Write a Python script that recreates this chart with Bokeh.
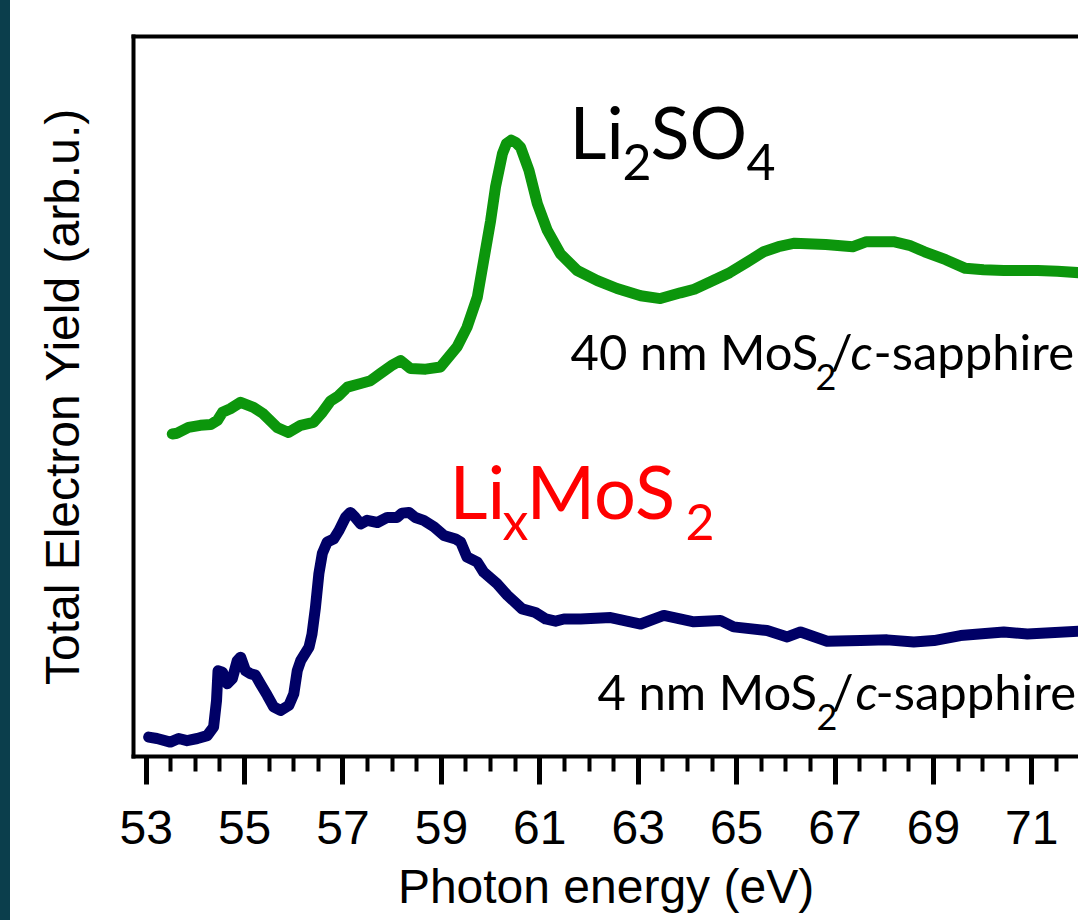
from bokeh.plotting import figure
from bokeh.models import FixedTicker, Label, LinearAxis, Range1d, Spacer
from bokeh.layouts import row
from bokeh.embed import file_html
from bokeh.resources import INLINE

# ---------------- data ----------------
energy_li2so4 = [53.53, 53.63, 53.86, 54.10, 54.31, 54.45, 54.55, 54.71, 54.92, 55.18,
                 55.38, 55.66, 55.89, 56.14, 56.40, 56.58, 56.75, 56.91, 57.09, 57.36,
                 57.56, 57.76, 58.01, 58.17, 58.37, 58.68, 58.98, 59.32, 59.52, 59.73,
                 59.86, 60.00, 60.10, 60.24, 60.32, 60.42, 60.51, 60.61, 60.78, 60.95,
                 61.15, 61.42, 61.76, 62.17, 62.57, 63.05, 63.45, 63.86, 64.14, 64.49,
                 64.86, 65.20, 65.55, 65.85, 66.18, 66.81, 67.36, 67.64, 68.19, 68.51,
                 68.82, 69.25, 69.65, 70.02, 70.43, 71.12, 71.52, 71.95, 72.30]
tey_li2so4 = [44.8, 44.9, 45.7, 46.0, 46.1, 46.7, 47.8, 48.3, 49.2, 48.5,
              47.6, 45.7, 45.0, 46.0, 46.4, 47.8, 49.4, 50.1, 51.3, 51.8,
              52.2, 53.2, 54.4, 55.0, 53.9, 53.8, 54.1, 56.9, 59.6, 63.8,
              68.9, 74.4, 79.1, 83.7, 85.1, 85.6, 85.3, 84.6, 81.4, 76.8,
              73.1, 69.8, 67.5, 66.1, 65.0, 64.0, 63.6, 64.4, 64.9, 66.0,
              67.2, 68.6, 70.1, 70.8, 71.3, 71.1, 70.8, 71.5, 71.5, 71.0,
              70.1, 69.0, 67.8, 67.6, 67.5, 67.5, 67.4, 67.2, 67.0]

energy_lixmos2 = [53.05, 53.22, 53.49, 53.66, 53.83, 54.04, 54.24, 54.37, 54.43, 54.46,
                  54.55, 54.65, 54.75, 54.85, 54.92, 55.02, 55.12, 55.22, 55.32, 55.46,
                  55.59, 55.73, 55.90, 56.00, 56.07, 56.14, 56.31, 56.37, 56.44, 56.51,
                  56.58, 56.68, 56.81, 56.92, 57.05, 57.15, 57.25, 57.36, 57.49, 57.70,
                  57.90, 58.10, 58.20, 58.34, 58.47, 58.64, 58.85, 59.05, 59.29, 59.39,
                  59.52, 59.73, 59.86, 60.13, 60.34, 60.64, 60.91, 61.12, 61.32, 61.49,
                  61.83, 62.44, 63.05, 63.52, 64.13, 64.67, 64.94, 65.62, 66.03, 66.30,
                  66.84, 67.52, 68.06, 68.60, 69.01, 69.55, 70.43, 70.91, 71.95, 72.30]
tey_lixmos2 = [2.7, 2.5, 2.0, 2.5, 2.2, 2.5, 2.9, 4.1, 7.8, 11.9,
               11.7, 10.1, 10.8, 13.3, 13.8, 11.9, 11.5, 11.3, 10.1, 8.5,
               6.9, 6.4, 7.1, 8.7, 11.9, 13.3, 15.2, 17.0, 20.7, 25.4,
               28.2, 29.8, 30.2, 31.4, 33.2, 33.9, 33.2, 32.3, 32.8, 32.5,
               33.2, 33.2, 33.8, 33.9, 33.2, 32.8, 31.9, 30.7, 30.2, 29.8,
               27.7, 27.0, 25.6, 24.0, 22.4, 20.5, 20.0, 19.1, 18.8, 19.1,
               19.1, 19.3, 18.4, 19.6, 18.7, 18.9, 18.0, 17.5, 16.6, 17.3,
               16.0, 16.1, 16.2, 15.9, 16.1, 16.8, 17.3, 17.0, 17.4, 17.5]

x_major_ticks = [53, 55, 57, 59, 61, 63, 65, 67, 69, 71]
x_minor_ticks = [53.5, 54, 54.5, 55.5, 56, 56.5, 57.5, 58, 58.5, 59.5, 60, 60.5,
                 61.5, 62, 62.5, 63.5, 64, 64.5, 65.5, 66, 66.5, 67.5, 68, 68.5,
                 69.5, 70, 70.5, 71.5]

X0, X1 = 52.742, 71.949
Y0, Y1 = 0.0, 100.0

GREEN = "#0c960c"
NAVY = "#000066"
RED = "#ff0000"
TEAL = "#0b3e4c"
TXT_FONT = "Lato"
AX_FONT = "Liberation Sans"

# frame geometry in window pixels (for annotation placement only)
FL, FR, FT, FB = 133, 1078, 36, 756


def ex(px):
    return X0 + (px - FL) * (X1 - X0) / (FR - FL)


def iy(py):
    return Y0 + (FB - py) * (Y1 - Y0) / (FB - FT)


p = figure(width=1068, height=920, x_range=Range1d(X0, X1), y_range=Range1d(Y0, Y1),
           x_axis_type=None, y_axis_type=None, output_backend="svg",
           toolbar_location=None, min_border_left=123, min_border_right=0,
           min_border_top=36, min_border_bottom=164)
p.outline_line_color = None
p.background_fill_color = "white"
p.border_fill_color = "white"

xa = LinearAxis(ticker=FixedTicker(ticks=x_major_ticks, minor_ticks=x_minor_ticks),
                axis_label="Photon energy (eV)")
xa.axis_line_width = 4
xa.axis_line_cap = "square"
xa.major_tick_line_width = 5
xa.minor_tick_line_width = 4
xa.major_tick_out = 28
xa.major_tick_in = 0
xa.minor_tick_out = 15
xa.minor_tick_in = 0
xa.major_label_text_font = AX_FONT
xa.major_label_text_font_size = "48px"
xa.major_label_text_color = "black"
xa.major_label_standoff = 26
xa.axis_label_text_font = AX_FONT
xa.axis_label_text_font_size = "48px"
xa.axis_label_text_font_style = "normal"
xa.axis_label_text_color = "black"
xa.axis_label_standoff = 13
p.add_layout(xa, "below")

ya = LinearAxis(ticker=FixedTicker(ticks=[]), axis_label="Total Electron Yield (arb.u.)")
ya.axis_line_width = 4
ya.axis_line_cap = "square"
ya.major_tick_out = 0
ya.major_tick_in = 0
ya.minor_tick_out = 0
ya.minor_tick_in = 0
ya.major_label_text_font_size = "0px"
ya.axis_label_text_font = AX_FONT
ya.axis_label_text_font_size = "48px"
ya.axis_label_text_font_style = "normal"
ya.axis_label_text_color = "black"
ya.axis_label_standoff = 45
p.add_layout(ya, "left")

ta = LinearAxis(ticker=FixedTicker(ticks=[]))
ta.axis_line_width = 4
ta.axis_line_cap = "square"
ta.major_tick_out = 0
ta.major_tick_in = 0
ta.minor_tick_out = 0
ta.minor_tick_in = 0
ta.major_label_text_font_size = "0px"
p.add_layout(ta, "above")

p.line(energy_li2so4, tey_li2so4, line_width=11, color=GREEN,
       line_join="round", line_cap="round")
p.line(energy_lixmos2, tey_lixmos2, line_width=11, color=NAVY,
       line_join="round", line_cap="round")


def put(text, px, py, size, color="black", style="normal", font=TXT_FONT,
        shift=0.41, align="left"):
    p.add_layout(Label(x=ex(px), y=iy(py - shift * size), text=text, text_font=font,
                       text_font_size=f"{size}px", text_color=color,
                       text_font_style=style, text_align=align,
                       text_baseline="alphabetic"))


# Li2SO4
put("Li", 569, 160, 72)
put("2", 622, 182, 50)
put("SO", 650, 160, 72)
put("4", 746, 182, 50)

# LixMoS2
put("Li", 449, 520, 74, RED)
put("x", 502, 541, 52, RED)
put("MoS", 526, 520, 74, RED)
put("2", 685, 542, 50, RED)

# 40 nm MoS2/c-sapphire
put("40 nm MoS", 570, 371, 49)
put("2", 815, 391, 36)
put("/", 830, 371, 49)
put("c", 850, 371, 49, style="italic")
put("-sapphire", 873, 371, 49)

# 4 nm MoS2/c-sapphire
put("4 nm MoS", 597, 711, 49)
put("2", 816, 731, 36)
put("/", 831, 711, 49)
put("c", 855, 711, 49, style="italic")
put("-sapphire", 875, 711, 49)

strip = Spacer(width=10, height=920, styles={"background-color": TEAL})

layout = row(strip, p, spacing=0)
open("out.html", "w").write(file_html(layout, INLINE))
